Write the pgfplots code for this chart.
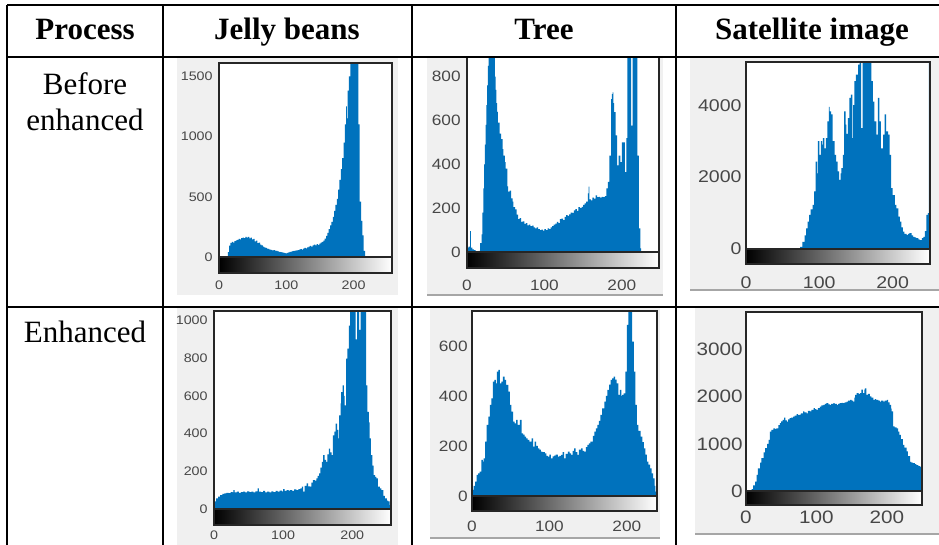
\documentclass[border=0pt]{standalone}
\usepackage{fontspec}
\setmainfont{Liberation Serif}
\newfontfamily\hdfont{Liberation Serif}
\newfontfamily\tkfont[FakeStretch=1.15]{Liberation Sans}
\usepackage{pgfplots}
\pgfplotsset{compat=1.18}
\definecolor{mblue}{HTML}{0072BD}
\definecolor{figbg}{HTML}{F0F0F0}
\definecolor{frame}{HTML}{262626}

\pgfplotsset{
  hist/.style={
    scale only axis, anchor=south west,
    xmin=0, ymin=0,
    axis on top,
    axis line style={frame, line width=0.7pt},
    major tick length=0pt,
    xtick={0,100,200},
    scaled ticks=false,
    /pgf/number format/assume math mode=true,
    /pgf/number format/set thousands separator={},
    xticklabel style={anchor=center},
    yticklabel style={anchor=east, inner sep=0pt},
    tick label style={text=black!72},
    axis background/.style={fill=white},
  },
  bars/.style={const plot, fill=mblue, draw=none},
}
% colour bar under a histogram
\newcommand\cbar[2]{%
  \shade[left color=black, right color=white] (#1.south west) rectangle ([yshift=-#2]#1.south east);
  \draw[frame, line width=0.7pt] (#1.south west) rectangle ([yshift=-#2]#1.south east);}

\begin{document}
\begin{tikzpicture}
\useasboundingbox (0,0) rectangle (469.5pt,-272.5pt);

% figure backgrounds (pixel coordinates)
\begin{scope}[x=0.5pt,y=-0.5pt]
\fill[figbg] (177,58) rectangle (398,295);
\fill[figbg] (427,58) rectangle (663,295);
\fill[figbg] (690,58) rectangle (940,290);
\fill[figbg] (177,308) rectangle (398,545);
\fill[figbg] (430,308) rectangle (660,538);
\fill[figbg] (695,308) rectangle (940,534);
\draw[gray!70, line width=0.8pt] (427,295) -- (663,295);
\draw[gray!70, line width=0.8pt] (690,290) -- (940,290);
\draw[gray!70, line width=0.8pt] (430,538) -- (660,538);
\draw[gray!70, line width=0.8pt] (695,534) -- (940,534);
\end{scope}

% Jelly beans, before
\begin{axis}[hist, name=p1, at={(109.5pt,-128.5pt)}, width=86.5pt, height=97pt,
  xmax=257, ymax=1610, ytick={0,500,1000,1500},
  tick label style={font={\tkfont\fontsize{6.2}{7}\selectfont}},
  xticklabel style={yshift=-14pt}, yticklabel style={xshift=-3pt}]
\addplot[bars] coordinates {(0,0) (12,0) (13,40) (15,95) (17,118) (19,126) (21,120) (23,132) (25,138) (27,142) (29,150) (31,146) (33,157) (35,160) (37,156) (39,166) (41,160) (43,168) (45,154) (47,160) (49,146) (51,150) (53,130) (55,136) (57,116) (59,120) (61,102) (63,96) (65,86) (67,80) (69,76) (71,70) (73,68) (75,62) (77,60) (79,55) (81,58) (83,52) (85,50) (87,46) (89,42) (91,40) (93,38) (95,36) (97,33) (99,30) (101,35) (103,38) (105,42) (107,45) (109,48) (111,50) (113,53) (115,56) (117,58) (119,62) (121,66) (123,62) (125,70) (127,75) (129,72) (131,80) (133,86) (135,92) (137,86) (139,96) (141,102) (143,96) (145,106) (147,100) (149,112) (151,120) (153,126) (155,136) (157,152) (159,176) (161,200) (163,232) (165,262) (167,292) (169,332) (171,382) (173,432) (175,482) (177,560) (179,640) (181,730) (183,820) (185,950) (187,1100) (189,1250) (190,1150) (191,1380) (193,1500) (195,1800) (207,1100) (209,460) (211,300) (213,180) (215,50) (217,0) (257,0)} \closedcycle;
\end{axis}
\cbar{p1}{8pt}

% Tree, before
\begin{axis}[hist, name=p2, at={(233.5pt,-126pt)}, width=96pt, height=97.5pt,
  xmax=248, ymax=890, ytick={0,200,400,600,800},
  tick label style={font={\tkfont\fontsize{7.5}{9}\selectfont}},
  xticklabel style={yshift=-16.5pt}, yticklabel style={xshift=-3pt}]
\addplot[bars] coordinates {(0,20) (2,25) (4,95) (5,20) (7,12) (9,8) (11,4) (13,0) (15,5) (17,40) (19,80) (20,180) (21,290) (22,400) (23,490) (24,580) (25,670) (26,760) (27,850) (28,1000) (36,800) (37,740) (38,680) (39,640) (40,590) (42,540) (44,515) (46,470) (47,440) (49,410) (50,380) (52,300) (53,275) (55,280) (57,245) (59,230) (60,205) (62,195) (64,170) (66,150) (68,155) (70,138) (72,140) (74,128) (76,132) (78,122) (80,125) (82,118) (84,120) (86,112) (88,108) (90,112) (92,104) (94,100) (96,102) (98,98) (100,104) (102,100) (104,108) (106,104) (108,112) (110,118) (112,125) (114,130) (116,138) (118,132) (120,150) (122,152) (124,145) (126,160) (128,168) (130,165) (132,172) (134,180) (136,178) (138,190) (140,196) (142,188) (144,205) (146,200) (148,206) (150,215) (152,222) (154,230) (156,268) (157,298) (158,240) (160,236) (162,248) (164,244) (166,258) (168,250) (170,252) (172,248) (174,252) (176,250) (178,255) (180,290) (182,320) (184,440) (186,698) (187,720) (188,728) (189,680) (190,638) (192,532) (194,395) (196,440) (198,410) (200,500) (202,500) (204,365) (206,520) (207,1000) (211,1000) (212,577) (213,577) (214,1000) (219,1000) (220,440) (222,108) (224,17) (225,0) (248,0)} \closedcycle;
\end{axis}
\cbar{p2}{8pt}

% Satellite image, before
\begin{axis}[hist, name=p3, at={(373pt,-124.5pt)}, width=92pt, height=93.5pt,
  xmax=251, ymax=5200, ytick={0,2000,4000},
  tick label style={font={\tkfont\fontsize{8.5}{10}\selectfont}},
  xticklabel style={yshift=-17pt}, yticklabel style={xshift=-2pt}]
\addplot[bars] coordinates {(0,0) (70,20) (74,60) (77,200) (80,380) (82,576) (84,760) (86,950) (88,1100) (91,1230) (93,1600) (95,2430) (97,2100) (98,3000) (100,2620) (102,3000) (104,2900) (105,3080) (107,2800) (109,3080) (111,3550) (113,3950) (114,3830) (116,3740) (118,3000) (121,2620) (123,2430) (125,2160) (127,1920) (129,2100) (130,2250) (132,2620) (134,3830) (136,3460) (137,3200) (139,3640) (141,4200) (143,4290) (145,3080) (146,4000) (148,4670) (150,4850) (153,5130) (155,5400) (157,3360) (159,5400) (171,4670) (173,4100) (175,3550) (178,3180) (180,4200) (182,3550) (184,2800) (187,3180) (189,3740) (191,3270) (194,3180) (196,2620) (198,1690) (200,1500) (203,1230) (205,1130) (208,900) (210,760) (212,600) (214,480) (216,420) (219,390) (221,420) (223,440) (226,380) (228,340) (230,320) (232,300) (235,270) (237,250) (240,300) (242,340) (244,500) (246,950) (248,1000) (249.5,6000) (251,6000)} \closedcycle;
\end{axis}
\cbar{p3}{7.5pt}

% Jelly beans, enhanced
\begin{axis}[hist, name=p4, at={(107pt,-254.5pt)}, width=88.5pt, height=99pt,
  xmax=256, ymax=1050, ytick={0,200,400,600,800,1000},
  tick label style={font={\tkfont\fontsize{6.2}{7}\selectfont}},
  xticklabel style={yshift=-13pt}, yticklabel style={xshift=-3pt}]
\addplot[bars] coordinates {(0,40) (3,56) (6,65) (9,74) (12,80) (15,83) (18,86) (21,84) (24,90) (27,88) (28,100) (30,88) (33,92) (36,86) (39,90) (42,92) (45,88) (48,94) (51,90) (54,92) (57,88) (60,94) (63,110) (65,92) (68,90) (71,96) (74,88) (77,92) (80,88) (83,94) (86,90) (89,96) (92,92) (95,98) (98,94) (100,106) (102,96) (105,100) (108,98) (110,100) (113,96) (116,104) (119,100) (122,106) (125,110) (127,118) (129,92) (131,122) (134,136) (136,120) (139,118) (141,140) (143,153) (146,150) (148,162) (150,175) (152,189) (154,220) (156,250) (158,286) (160,260) (162,250) (164,290) (166,320) (168,300) (170,286) (172,390) (174,410) (176,453) (178,420) (180,374) (181,497) (183,560) (184,620) (186,656) (188,600) (189,550) (191,797) (193,850) (195,973) (197,1100) (205,900) (207,1100) (210,950) (212,1100) (220,656) (222,515) (224,460) (225,374) (227,286) (229,230) (231,180) (233,170) (235,162) (237,118) (240,110) (242,100) (245,70) (247,56) (250,45) (252,40) (254,20) (256,0)} \closedcycle;
\end{axis}
\cbar{p4}{8pt}

% Tree, enhanced
\begin{axis}[hist, name=p5, at={(236pt,-248pt)}, width=92.5pt, height=92.5pt,
  xmax=239, ymax=740, ytick={0,200,400,600},
  tick label style={font={\tkfont\fontsize{7.5}{9}\selectfont}},
  xticklabel style={yshift=-15pt}, yticklabel style={xshift=-2pt}]
\addplot[bars] coordinates {(0,24) (2,40) (4,57) (6,84) (8,90) (10,97) (12,144) (14,137) (15,150) (17,217) (19,284) (21,317) (23,364) (25,390) (27,457) (29,464) (31,450) (32,497) (34,504) (36,450) (38,457) (40,477) (42,464) (44,444) (47,417) (49,364) (51,337) (53,297) (55,290) (57,304) (59,284) (62,304) (64,250) (66,245) (68,237) (70,230) (72,224) (74,217) (77,230) (79,197) (81,217) (83,200) (85,190) (87,185) (89,177) (91,175) (94,170) (96,160) (98,157) (100,165) (102,150) (104,158) (106,161) (108,165) (111,157) (113,160) (115,164) (117,175) (119,150) (121,168) (124,177) (126,170) (128,164) (130,180) (132,190) (134,175) (136,164) (138,185) (141,190) (143,180) (145,177) (147,195) (149,204) (151,210) (153,217) (156,240) (158,257) (160,270) (162,284) (164,300) (166,324) (168,350) (171,377) (173,400) (175,424) (177,445) (179,464) (181,470) (183,477) (185,465) (187,450) (189,404) (191,424) (193,400) (194,404) (196,410) (198,497) (200,684) (202,760) (205,737) (207,617) (209,497) (211,364) (213,284) (215,260) (218,237) (220,215) (222,190) (224,165) (226,137) (228,125) (230,110) (232,90) (234,70) (236,40) (237,17) (239,0)} \closedcycle;
\end{axis}
\cbar{p5}{7.5pt}

% Satellite image, enhanced
\begin{axis}[hist, name=p6, at={(373pt,-245.5pt)}, width=88pt, height=89.5pt,
  xmax=250, ymax=3800, ytick={0,1000,2000,3000},
  tick label style={font={\tkfont\fontsize{9}{10}\selectfont}},
  xticklabel style={yshift=-13pt}, yticklabel style={xshift=-1.5pt}]
\addplot[bars] coordinates {(0,0) (8,40) (10,120) (13,200) (15,340) (17,480) (20,600) (22,700) (25,820) (27,910) (30,1000) (32,1085) (34,1260) (36,1300) (39,1330) (41,1320) (43,1330) (46,1400) (48,1440) (50,1480) (52,1510) (54,1560) (56,1500) (58,1475) (60,1520) (62,1545) (64,1560) (67,1580) (69,1600) (72,1630) (74,1610) (76,1620) (78,1650) (81,1690) (83,1670) (86,1650) (88,1700) (91,1690) (93,1720) (96,1760) (98,1740) (100,1720) (102,1760) (105,1790) (107,1820) (110,1830) (112,1850) (114,1865) (117,1840) (119,1830) (121,1850) (124,1865) (126,1850) (129,1830) (131,1850) (133,1865) (136,1870) (138,1865) (140,1880) (143,1900) (145,1920) (148,1935) (150,1920) (152,1900) (154,1980) (155,2040) (157,2080) (160,2060) (162,2080) (164,2150) (166,2080) (168,2150) (169,2180) (171,2040) (173,2060) (176,2010) (178,1980) (181,1935) (183,1950) (185,1935) (188,1920) (190,1900) (192,1920) (195,1900) (197,1920) (200,1935) (202,1880) (204,1830) (206,1750) (207,1690) (209,1370) (211,1350) (214,1330) (216,1260) (218,1190) (220,1100) (223,980) (225,920) (228,840) (230,740) (233,620) (235,600) (237,590) (240,570) (242,550) (245,530) (247,520) (249,8000) (250,8000)} \closedcycle;
\end{axis}
\cbar{p6}{7pt}

% table rules and texts (pixel coordinates)
\begin{scope}[x=0.5pt,y=-0.5pt]
\draw[line width=1pt] (7,5) -- (940,5) (7,57) -- (940,57) (7,307) -- (940,307)
  (7,5) -- (7,546) (163,5) -- (163,546) (412,5) -- (412,546) (676,5) -- (676,546);
\begin{scope}[every node/.style={anchor=base, inner sep=0pt}]
\node at (85,40) {\hdfont\fontsize{15.5}{18}\selectfont\bfseries Process};
\node at (287,40) {\hdfont\fontsize{15.5}{18}\selectfont\bfseries Jelly beans};
\node at (544,40) {\hdfont\fontsize{15.5}{18}\selectfont\bfseries Tree};
\node at (812,40) {\hdfont\fontsize{15.5}{18}\selectfont\bfseries Satellite image};
\node at (85,95) {\hdfont\fontsize{15.5}{18}\selectfont Before};
\node at (85,131) {\hdfont\fontsize{15.5}{18}\selectfont enhanced};
\node at (85,343) {\hdfont\fontsize{15.5}{18}\selectfont Enhanced};
\end{scope}
\end{scope}
\end{tikzpicture}
\end{document}
